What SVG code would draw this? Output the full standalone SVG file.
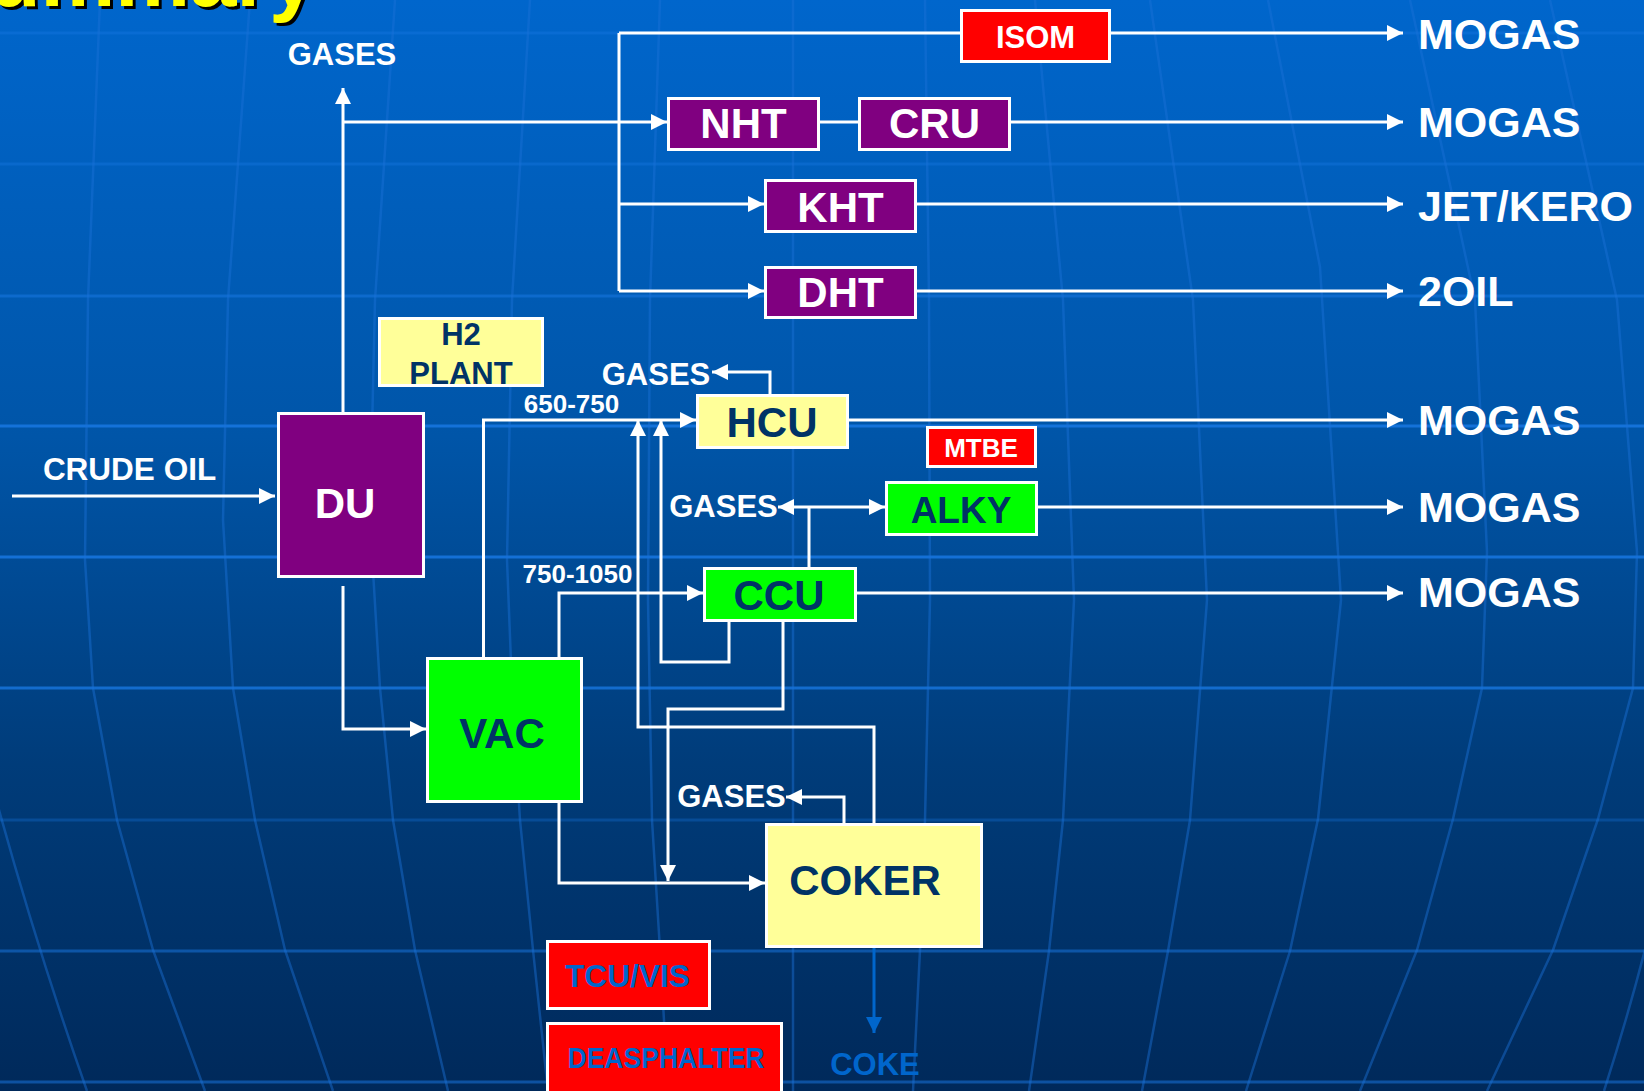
<svg xmlns="http://www.w3.org/2000/svg" width="1644" height="1091" viewBox="0 0 1644 1091">
<defs>
<linearGradient id="bg" x1="0" y1="0" x2="0" y2="1">
<stop offset="0" stop-color="#0066CC"/>
<stop offset="0.4" stop-color="#0055A8"/>
<stop offset="0.7" stop-color="#003C7A"/>
<stop offset="1" stop-color="#00295A"/>
</linearGradient>
<marker id="ah" markerUnits="userSpaceOnUse" markerWidth="16" markerHeight="16" refX="15" refY="7.5" orient="auto" viewBox="0 0 15 15">
<path d="M0,0 L15,7.5 L0,15 z" fill="#FFFFFF"/>
</marker>
<marker id="ahb" markerUnits="userSpaceOnUse" markerWidth="16" markerHeight="16" refX="15" refY="7.5" orient="auto" viewBox="0 0 15 15">
<path d="M0,0 L15,7.5 L0,15 z" fill="#0066CC"/>
</marker>
<style>
.t{font-family:"Liberation Sans",Arial,Helvetica,sans-serif;font-weight:bold}
.w{fill:#FFFFFF}
.n{fill:#003366}
.b{fill:#0066CC}
.box{stroke:#FFFFFF;stroke-width:3}
.purple{fill:#800080}
.red{fill:#FF0000}
.green{fill:#00FF00}
.yellow{fill:#FFFF99}
.conn{stroke:#FFFFFF;stroke-width:3;fill:none}
.arr{marker-end:url(#ah)}
.mer{stroke:#1a72d8;stroke-width:2.5;fill:none;opacity:0.45;stroke-linejoin:round}
.hl{stroke:#1a7ae6;stroke-width:3}
.out{font-size:43px}
</style>
</defs>

<g id="background">
<rect x="0" y="0" width="1644" height="1091" fill="url(#bg)"/>
<line class="hl" x1="0" y1="33" x2="1644" y2="33" opacity="0.35"/>
<line class="hl" x1="0" y1="164" x2="1644" y2="164" opacity="0.35"/>
<line class="hl" x1="0" y1="296" x2="1644" y2="296" opacity="0.5"/>
<line class="hl" x1="0" y1="426" x2="1644" y2="426" opacity="0.8"/>
<line class="hl" x1="0" y1="557" x2="1644" y2="557" opacity="0.8"/>
<line class="hl" x1="0" y1="688" x2="1644" y2="688" opacity="0.75"/>
<line class="hl" x1="0" y1="820" x2="1644" y2="820" opacity="0.3"/>
<line class="hl" x1="0" y1="951" x2="1644" y2="951" opacity="0.5"/>
<line class="hl" x1="0" y1="1082" x2="1644" y2="1082" opacity="0.5"/>
<path class="mer" d="M-30,700 Q20,900 87,1091"/>
<path class="mer" d="M100,0 L88,300 L85,560 L93,688 L117,820 L153,950 L205,1091"/>
<path class="mer" d="M250,0 L228,300 L223,520 L233,688 L255,820 L285,950 L333,1091"/>
<path class="mer" d="M395,0 L375,300 L370,520 L380,688 L393,820 L415,950 L448,1091"/>
<path class="mer" d="M530,0 L512,300 L507,560 L512,688 L520,820 L533,950 L548,1091"/>
<path class="mer" d="M660,0 L650,300 L648,600 L652,820 L660,950 L668,1091"/>
<path class="mer" d="M793,0 L793,1091"/>
<path class="mer" d="M925,0 L929,300 L930,600 L925,820 L920,950 L913,1091"/>
<path class="mer" d="M1035,0 L1063,300 L1074,600 L1063,820 L1049,951 L1029,1091"/>
<path class="mer" d="M1150,0 L1193,300 L1207,600 L1190,820 L1168,951 L1142,1091"/>
<path class="mer" d="M1268,0 L1320,267 L1341,600 L1318,819 L1290,951 L1246,1091"/>
<path class="mer" d="M1410,0 L1475,300 L1487,552 L1482,688 L1453,819 L1417,950 L1360,1091"/>
<path class="mer" d="M1550,0 L1617,300 L1637,552 L1633,688 L1598,819 L1553,950 L1487,1091"/>
<path class="mer" d="M1650,930 Q1630,1010 1604,1091"/>
</g>

<g id="title">
<text class="t" x="319" y="9" font-size="84" text-anchor="end" fill="#000000">Summary</text>
<text class="t" x="316" y="6" font-size="84" text-anchor="end" fill="#FFFF00">Summary</text>
</g>

<g id="connectors">
<path class="conn arr" d="M12,496 L275,496"/>
<path class="conn arr" d="M343,412 L343,88"/>
<path class="conn arr" d="M343,122 L667,122"/>
<path class="conn" d="M619,33 L619,291"/>
<path class="conn" d="M619,33 L960,33"/>
<path class="conn arr" d="M619,204 L764,204"/>
<path class="conn arr" d="M619,291 L764,291"/>
<path class="conn" d="M820,122 L858,122"/>
<path class="conn arr" d="M1111,33 L1403,33"/>
<path class="conn arr" d="M1011,122 L1403,122"/>
<path class="conn arr" d="M917,204 L1403,204"/>
<path class="conn arr" d="M917,291 L1403,291"/>
<path class="conn arr" d="M770,394 L770,372 L712,372"/>
<path class="conn arr" d="M483.5,657 L483.5,420 L696,420"/>
<path class="conn arr" d="M849,420 L1403,420"/>
<path class="conn arr" d="M1038,507 L1403,507"/>
<path class="conn arr" d="M857,593 L1403,593"/>
<path class="conn" d="M809,567 L809,507"/>
<path class="conn arr" d="M809,507 L778,507"/>
<path class="conn arr" d="M809,507 L885,507"/>
<path class="conn arr" d="M559,657 L559,593 L703,593"/>
<path class="conn arr" d="M874,823 L874,727 L638,727 L638,420"/>
<path class="conn arr" d="M729,622 L729,662 L661,662 L661,420"/>
<path class="conn arr" d="M783,622 L783,709 L668,709 L668,881"/>
<path class="conn arr" d="M559,803 L559,883 L765,883"/>
<path class="conn arr" d="M844,823 L844,797 L786,797"/>
<path class="conn arr" d="M343,586 L343,729 L426,729"/>
<path d="M874,948 L874,1033" stroke="#0066CC" stroke-width="3" fill="none" marker-end="url(#ahb)"/>
</g>

<g id="node-isom">
<rect class="box red" x="961.5" y="10.5" width="148" height="51"/>
<text class="t w" x="1035.5" y="48" font-size="31" text-anchor="middle">ISOM</text>
</g>
<g id="node-nht">
<rect class="box purple" x="668.5" y="98.5" width="150" height="51"/>
<text class="t w" x="743.5" y="138" font-size="42" text-anchor="middle">NHT</text>
</g>
<g id="node-cru">
<rect class="box purple" x="859.5" y="98.5" width="150" height="51"/>
<text class="t w" x="934.5" y="138" font-size="42" text-anchor="middle">CRU</text>
</g>
<g id="node-kht">
<rect class="box purple" x="765.5" y="180.5" width="150" height="51"/>
<text class="t w" x="840.5" y="222" font-size="42" text-anchor="middle">KHT</text>
</g>
<g id="node-dht">
<rect class="box purple" x="765.5" y="267.5" width="150" height="50"/>
<text class="t w" x="840.5" y="307" font-size="42" text-anchor="middle">DHT</text>
</g>
<g id="node-h2plant">
<rect class="box yellow" x="379.5" y="318.5" width="163" height="67"/>
<text class="t n" x="461" y="345" font-size="31" text-anchor="middle">H2</text>
<text class="t n" x="461" y="384" font-size="31" text-anchor="middle">PLANT</text>
</g>
<g id="node-du">
<rect class="box purple" x="278.5" y="413.5" width="145" height="163"/>
<text class="t w" x="345" y="518" font-size="42" text-anchor="middle">DU</text>
</g>
<g id="node-hcu">
<rect class="box yellow" x="697.5" y="395.5" width="150" height="52"/>
<text class="t n" x="772" y="437" font-size="42" text-anchor="middle">HCU</text>
</g>
<g id="node-mtbe">
<rect class="box red" x="927.5" y="427.5" width="108" height="39"/>
<text class="t w" x="981" y="457" font-size="26" text-anchor="middle">MTBE</text>
</g>
<g id="node-alky">
<rect class="box green" x="886.5" y="482.5" width="150" height="52"/>
<text class="t n" x="961" y="523" font-size="37" text-anchor="middle">ALKY</text>
</g>
<g id="node-ccu">
<rect class="box green" x="704.5" y="568.5" width="151" height="52"/>
<text class="t n" x="779" y="610" font-size="42" text-anchor="middle">CCU</text>
</g>
<g id="node-vac">
<rect class="box green" x="427.5" y="658.5" width="154" height="143"/>
<text class="t n" x="502" y="748" font-size="42" text-anchor="middle">VAC</text>
</g>
<g id="node-coker">
<rect class="box yellow" x="766.5" y="824.5" width="215" height="122"/>
<text class="t n" x="865" y="895" font-size="42" text-anchor="middle">COKER</text>
</g>
<g id="node-tcuvis">
<rect class="box red" x="547.5" y="941.5" width="162" height="67"/>
<text class="t b" x="627.5" y="987" font-size="31" text-anchor="middle" textLength="125" lengthAdjust="spacingAndGlyphs">TCU/VIS</text>
</g>
<g id="node-deasphalter">
<rect class="box red" x="547.5" y="1023.5" width="234" height="80"/>
<text class="t b" x="666" y="1068" font-size="29" text-anchor="middle" textLength="197" lengthAdjust="spacingAndGlyphs">DEASPHALTER</text>
</g>

<g id="labels">
<text class="t w" x="342" y="65" font-size="31" text-anchor="middle">GASES</text>
<text class="t w" x="656" y="385" font-size="31" text-anchor="middle">GASES</text>
<text class="t w" x="723.5" y="517" font-size="31" text-anchor="middle">GASES</text>
<text class="t w" x="731.5" y="807" font-size="31" text-anchor="middle">GASES</text>
<text class="t w" x="129.5" y="480" font-size="31.5" text-anchor="middle">CRUDE OIL</text>
<text class="t w" x="571.5" y="413" font-size="26" text-anchor="middle">650-750</text>
<text class="t w" x="577.5" y="583" font-size="26" text-anchor="middle">750-1050</text>
<text class="t b" x="875" y="1075" font-size="31" text-anchor="middle">COKE</text>
<text class="t w out" x="1418" y="49">MOGAS</text>
<text class="t w out" x="1418" y="137">MOGAS</text>
<text class="t w out" x="1418" y="221">JET/KERO</text>
<text class="t w out" x="1418" y="306">2OIL</text>
<text class="t w out" x="1418" y="435">MOGAS</text>
<text class="t w out" x="1418" y="522">MOGAS</text>
<text class="t w out" x="1418" y="607">MOGAS</text>
</g>
</svg>
